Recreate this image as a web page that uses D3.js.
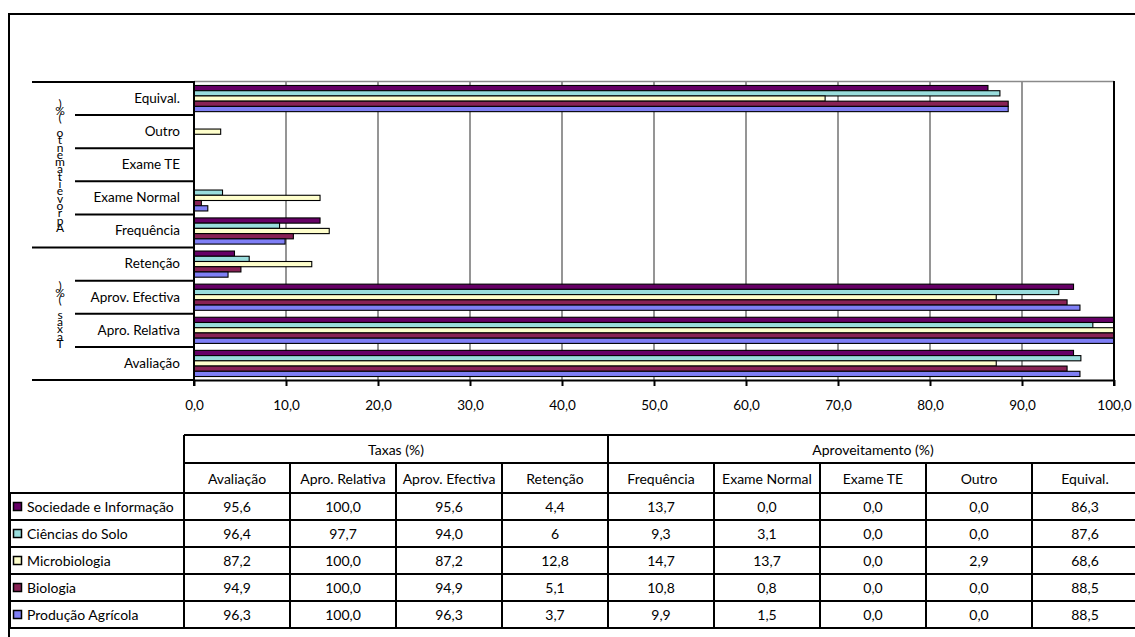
<!DOCTYPE html>
<html>
<head>
<meta charset="utf-8">
<script src="https://cdn.jsdelivr.net/npm/d3@7"></script>
<style>
  body { margin: 0; background: #fff; }
  svg { display: block; }
  text { font-family: Lato, "Open Sans", sans-serif; fill: #000; }
</style>
</head>
<body>
<svg id="chart" width="1135" height="637"></svg>
<script>
// Categories, in table order (left to right); the chart lists them bottom to top
const categories = ["Avaliação", "Apro. Relativa", "Aprov. Efectiva", "Retenção",
                    "Frequência", "Exame Normal", "Exame TE", "Outro", "Equival."];
const groupLabels = ["Taxas (%)", "Aproveitamento (%)"];
const groupSizes = [4, 5];

const seriesNames = ["Sociedade e Informação", "Ciências do Solo", "Microbiologia",
                     "Biologia", "Produção Agrícola"];
const seriesColors = ["#660066", "#99DDDD", "#FFFFCC", "#882255", "#7F7FF5"];

const sociedade   = [95.6, 100.0, 95.6, 4.4, 13.7, 0.0, 0.0, 0.0, 86.3];
const ciencias    = [96.4, 97.7, 94.0, 6, 9.3, 3.1, 0.0, 0.0, 87.6];
const microbiol   = [87.2, 100.0, 87.2, 12.8, 14.7, 13.7, 0.0, 2.9, 68.6];
const biologia    = [94.9, 100.0, 94.9, 5.1, 10.8, 0.8, 0.0, 0.0, 88.5];
const producao    = [96.3, 100.0, 96.3, 3.7, 9.9, 1.5, 0.0, 0.0, 88.5];
const seriesValues = [sociedade, ciencias, microbiol, biologia, producao];

// Cells entered without a decimal place keep their plain form in the table
const plainCells = [[1, 3]]; // [series, category]

const xTicks = [0, 10, 20, 30, 40, 50, 60, 70, 80, 90, 100];

const svg = d3.select("#chart");
const fmt = v => d3.format(".1f")(v).replace(".", ",");
const cellText = (s, c) =>
  plainCells.some(p => p[0] === s && p[1] === c) ? String(seriesValues[s][c]) : fmt(seriesValues[s][c]);

const labelSize = 13.5;
const tableSize = 14;

// Outer frame
svg.append("rect").attr("x", 9).attr("y", 14).attr("width", 1140).attr("height", 640)
  .attr("fill", "none").attr("stroke", "#000").attr("stroke-width", 2);

// Plot area
const plot = { left: 194, right: 1114, top: 82, bottom: 380 };
const x = d3.scaleLinear().domain([0, 100]).range([plot.left, plot.right]);
const y0 = d3.scaleBand().domain(categories.slice().reverse())
  .range([plot.top, plot.bottom]).paddingInner(0.21).paddingOuter(0.105);
const y1 = d3.scaleBand().domain(d3.range(seriesNames.length)).range([0, y0.bandwidth()]);

// Top border of the plot area and gridlines
svg.append("line").attr("x1", plot.left).attr("x2", plot.right)
  .attr("y1", plot.top - 0.5).attr("y2", plot.top - 0.5)
  .attr("stroke", "#8a8a8a").attr("stroke-width", 1.5);
svg.append("g").selectAll("line").data(xTicks.slice(1, -1)).join("line")
  .attr("x1", d => x(d)).attr("x2", d => x(d))
  .attr("y1", plot.top).attr("y2", plot.bottom)
  .attr("stroke", "#8a8a8a").attr("stroke-width", 1.8);

// Bars
const barRows = [];
categories.forEach((c, ci) => {
  seriesValues.forEach((vals, si) => {
    if (vals[ci] > 0) barRows.push({ c, ci, si, v: vals[ci] });
  });
});
svg.append("g").selectAll("rect").data(barRows).join("rect")
  .attr("x", x(0))
  .attr("y", d => y0(d.c) + y1(d.si))
  .attr("width", d => x(d.v) - x(0))
  .attr("height", y1.bandwidth())
  .attr("fill", d => seriesColors[d.si])
  .attr("stroke", "#000").attr("stroke-width", 1.1);

// Value axis
const xAxis = svg.append("g").attr("transform", `translate(0,${plot.bottom})`)
  .call(d3.axisBottom(x).tickValues(xTicks).tickFormat(fmt).tickSize(6).tickSizeOuter(0).tickPadding(14));
xAxis.select(".domain").attr("stroke", "#000").attr("stroke-width", 2);
xAxis.selectAll(".tick line").attr("stroke", "#000").attr("stroke-width", 2);
xAxis.selectAll(".tick text").attr("font-size", labelSize).attr("font-family", "Lato, sans-serif");

// Right edge of the plot
svg.append("line").attr("x1", plot.right).attr("x2", plot.right)
  .attr("y1", plot.top - 1).attr("y2", plot.bottom + 6)
  .attr("stroke", "#000").attr("stroke-width", 2);

// Category axis with multi-level labels
const catAxis = svg.append("g").attr("transform", `translate(${plot.left},0)`)
  .call(d3.axisLeft(y0).tickSize(0).tickPadding(14));
catAxis.select(".domain").remove();
catAxis.selectAll(".tick text").attr("font-size", labelSize).attr("font-family", "Lato, sans-serif");
svg.append("line").attr("x1", plot.left).attr("x2", plot.left)
  .attr("y1", plot.top - 1).attr("y2", plot.bottom + 6)
  .attr("stroke", "#000").attr("stroke-width", 2);

// Boundaries between categories; longer strokes separate the two groups
const step = y0.step();
const groupEdges = [0];
groupSizes.slice().reverse().forEach(n => groupEdges.push(groupEdges[groupEdges.length - 1] + n));
svg.append("g").selectAll("line").data(d3.range(categories.length + 1)).join("line")
  .attr("x1", i => groupEdges.includes(i) ? 32 : 75).attr("x2", plot.left)
  .attr("y1", i => plot.top + i * step).attr("y2", i => plot.top + i * step)
  .attr("stroke", "#000").attr("stroke-width", 2);

// Group labels: upright glyphs stacked upward, read bottom to top
const groupsTopDown = groupLabels.slice().reverse();
groupsTopDown.forEach((label, gi) => {
  const cy = plot.top + (groupEdges[gi] + groupEdges[gi + 1]) / 2 * step;
  const chars = Array.from(label);
  const gstep = 7.3;
  const t = svg.append("text")
    .attr("text-anchor", "middle").attr("dominant-baseline", "central")
    .attr("font-size", 12);
  t.selectAll("tspan").data(chars).join("tspan")
    .attr("x", 60)
    .attr("y", (d, i) => cy + ((chars.length - 1) / 2 - i) * gstep)
    .text(d => d);
});

// Data table below the chart
const tbl = { left: 184, right: 1138, h1: 435, h2: 463, body: 493, rowH: 27 };
const colX = d3.scaleBand().domain(categories).range([tbl.left, tbl.right]);
const tableBottom = tbl.body + seriesNames.length * tbl.rowH;
const T = svg.append("g");
const hline = (x1, x2, yy) => T.append("line").attr("x1", x1).attr("x2", x2).attr("y1", yy).attr("y2", yy)
  .attr("stroke", "#000").attr("stroke-width", 2);
const vline = (xx, y1v, y2v) => T.append("line").attr("x1", xx).attr("x2", xx).attr("y1", y1v).attr("y2", y2v)
  .attr("stroke", "#000").attr("stroke-width", 2);

// Header row 1: the two groups
hline(tbl.left, tbl.right, tbl.h1);
hline(tbl.left, tbl.right, tbl.h2);
let start = 0;
groupSizes.forEach((n, gi) => {
  const gx0 = colX(categories[start]);
  const gx1 = colX(categories[start + n - 1]) + colX.bandwidth();
  vline(gx0, tbl.h1, tableBottom);
  T.append("text").attr("x", (gx0 + gx1) / 2).attr("y", (tbl.h1 + tbl.h2) / 2)
    .attr("text-anchor", "middle").attr("dominant-baseline", "central")
    .attr("font-size", tableSize).text(groupLabels[gi]);
  start += n;
});
// Header row 2: categories
categories.forEach((c, ci) => {
  if (ci > 0) vline(colX(c), tbl.h2, tableBottom);
  T.append("text").attr("x", colX(c) + colX.bandwidth() / 2).attr("y", (tbl.h2 + tbl.body) / 2)
    .attr("text-anchor", "middle").attr("dominant-baseline", "central")
    .attr("font-size", tableSize).text(c);
});
// Body rows with legend keys
vline(10, tbl.body, tableBottom);
seriesNames.forEach((name, si) => {
  const ry = tbl.body + si * tbl.rowH;
  hline(10, tbl.right, ry);
  T.append("rect").attr("x", 13.5).attr("y", ry + tbl.rowH / 2 - 4).attr("width", 8).attr("height", 8)
    .attr("fill", seriesColors[si]).attr("stroke", "#000").attr("stroke-width", 1.5);
  T.append("text").attr("x", 27).attr("y", ry + tbl.rowH / 2)
    .attr("dominant-baseline", "central").attr("font-size", tableSize).text(name);
  categories.forEach((c, ci) => {
    T.append("text").attr("x", colX(c) + colX.bandwidth() / 2).attr("y", ry + tbl.rowH / 2)
      .attr("text-anchor", "middle").attr("dominant-baseline", "central")
      .attr("font-size", tableSize).text(cellText(si, ci));
  });
});
hline(10, tbl.right, tableBottom);
</script>
</body>
</html>
